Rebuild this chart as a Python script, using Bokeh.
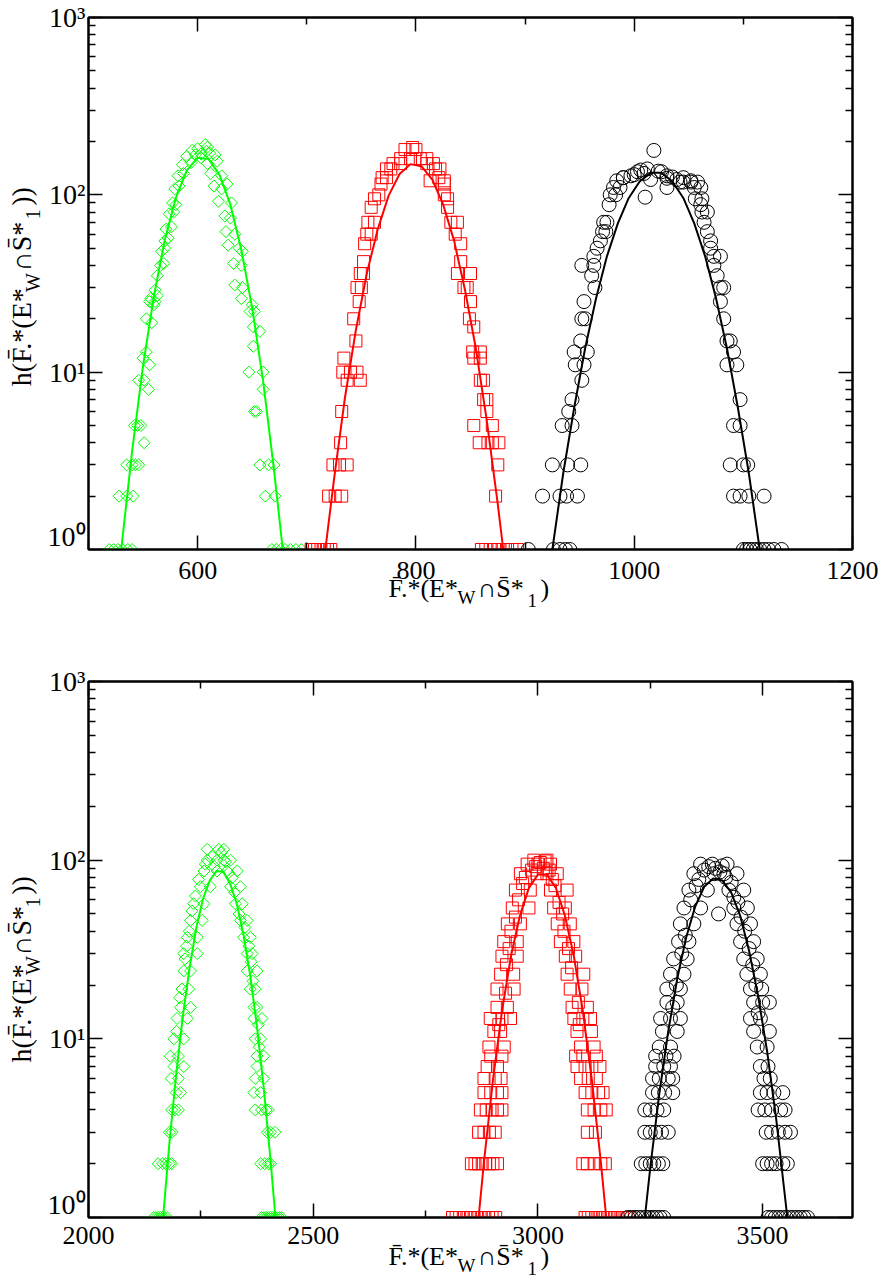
import math
from bokeh.plotting import figure
from bokeh.layouts import column, row
from bokeh.models import (FixedTicker, LinearAxis, LogAxis, Range1d, CustomJSTickFormatter)
from bokeh.core.properties import value
from bokeh.embed import file_html
from bokeh.resources import INLINE

FONT = "Liberation Serif"

# ---------------- top panel data ----------------
top_x_range = (500, 1200)
top_x_ticks = [600, 800, 1000, 1200]
top_x_minor = [500, 700, 900, 1100]

tg_x = [519, 523, 527, 531, 536, 540, 528, 535, 541, 535, 540, 543, 546, 551, 542, 545, 548,
        546, 551, 555, 550, 556, 553, 553, 558, 556, 561, 557, 560, 563, 561, 563, 566, 569, 567, 570,
        570, 573, 571, 576, 574, 578, 577, 580, 579, 583, 582, 587, 586, 594, 590, 598, 603, 595, 600,
        608, 607, 609,
        603, 611, 616, 609, 618, 612, 622, 615, 622, 627, 619, 631, 625, 630, 626, 634, 628, 638, 641,
        633, 640, 634, 641, 640, 650, 648, 652, 651, 657, 651, 647, 660, 660, 652, 654, 657, 665, 670,
        662, 671, 668, 672, 676, 680, 685, 690, 695]
tg_y = [1, 1, 1, 1, 1, 1, 2, 2, 2, 3, 3, 3, 3, 4, 5, 5, 5,
        9, 9, 8, 12, 11, 13, 20, 19, 25, 25, 26, 24, 27, 29, 35, 40, 41, 48, 50,
        55, 57, 64, 66, 78, 80, 90, 88, 108, 112, 128, 132, 148, 152, 165, 168, 162, 178, 182,
        176, 192, 186,
        170, 172, 168, 150, 155, 132, 128, 112, 108, 115, 92, 90, 76, 74, 62, 60, 52, 50, 48,
        41, 40, 31, 30, 26, 24, 22, 22, 18, 17, 14, 10, 10, 8, 6, 6, 3, 3, 3,
        2, 2, 1, 1, 1, 1, 1, 1, 1]
tg_fit_x = [530, 540, 550, 560, 570, 580, 590, 600, 610, 620, 630, 640, 650, 660, 670, 678]
tg_fit_y = [1.0, 3.6, 10.9, 27, 56, 96, 137, 162, 159, 130, 88, 49, 23, 8.9, 2.8, 1.0]

tr_x = [704, 707, 710, 713, 716, 719, 722, 720, 726, 732, 724, 730, 737, 731, 732, 737, 749,
        733, 740, 746, 734, 745, 743, 748, 746, 750, 749, 752, 752, 753, 755, 759, 756, 762, 759,
        762, 766, 768, 769, 773, 773, 777, 779, 786, 786, 795, 804, 810, 790, 800, 797,
        810, 816, 813, 826, 818, 822, 821, 826, 826, 829, 829, 832, 838, 836, 841, 841, 838, 850,
        844, 847, 850, 849, 853, 852, 859, 853, 859, 859, 862, 862, 865, 865, 853, 870, 858, 866,
        870, 876, 875, 873, 860, 864, 868, 872, 876, 880, 884, 888, 893]
tr_y = [1, 1, 1, 1, 1, 1, 1, 2, 2, 2, 3, 3, 3, 4, 6, 9, 9,
        10, 10, 10, 12, 15, 20, 25, 30, 30, 36, 36, 42, 53, 60, 60, 70, 70, 85,
        95, 100, 115, 125, 125, 140, 140, 150, 150, 160, 160, 160, 160, 180, 180, 185,
        150, 150, 120, 120, 140, 140, 125, 115, 100, 95, 85, 70, 70, 60, 53, 42, 36, 36,
        30, 30, 25, 20, 18, 13, 13, 12, 12, 9, 9, 7, 7, 6, 5, 5, 4, 4,
        4, 4, 3, 2, 1, 1, 1, 1, 1, 1, 1, 1, 1]
tr_fit_x = [717, 725, 735, 745, 755, 765, 775, 785, 795, 805, 815, 825, 835, 845, 855, 865, 875, 880]
tr_fit_y = [1.0, 2.5, 7.2, 17.3, 36, 64, 99, 131, 149, 145, 122, 88, 55, 29, 13.5, 5.3, 1.8, 1.0]

tk_x = [903, 926, 932, 937, 941, 1100, 1103, 1106, 1109, 1112, 1115, 1119, 1123, 1128, 1135,
        916, 932, 938, 948, 1091, 1097, 1105, 1119, 925, 939, 951, 1088, 1100, 1104,
        934, 943, 1091, 1097, 940, 943, 1097, 952, 946, 954, 1085, 1094, 945, 957, 1091,
        951, 1085, 1088, 952, 955, 1082, 954, 1079, 964, 1079, 1082, 961, 1076,
        952, 963, 1073, 963, 1073, 1079, 966, 1070, 969, 1070, 971, 974, 1067, 972, 975, 1064,
        1062, 1067, 977, 1061, 1056, 1062, 978, 983, 981, 987, 1055, 1061, 1052, 1058,
        984, 990, 1045, 1052, 990, 1039, 1045, 997, 1009, 1030, 1042, 1003, 1012, 1022, 1030,
        1018, 1010, 1030, 1000, 1006, 1015, 1025, 1035]
tk_y = [1, 1, 1, 1, 1, 1, 1, 1, 1, 1, 1, 1, 1, 1, 1,
        2, 2, 2, 2, 2, 2, 2, 2, 3, 3, 3, 3, 3, 3,
        5, 5, 5, 5, 6, 7, 7, 9, 11, 11, 11, 11, 13, 13, 13,
        15, 15, 15, 20, 20, 20, 25, 25, 30, 30, 30, 35, 35,
        40, 40, 40, 45, 45, 45, 50, 50, 55, 55, 62, 62, 62, 70, 70, 70,
        80, 80, 88, 88, 95, 95, 100, 100, 110, 110, 110, 110, 118, 118,
        120, 125, 125, 120, 125, 122, 118, 128, 132, 124, 118, 135, 140, 136, 128,
        178, 97, 110, 130, 138, 122, 135, 126]
tk_fit_x = [925, 935, 945, 955, 965, 975, 985, 995, 1005, 1015, 1025, 1035, 1045, 1055, 1065,
            1075, 1085, 1095, 1105, 1115]
tk_fit_y = [1.0, 2.7, 6.3, 13.6, 26, 45, 69, 96, 119, 133, 133, 119, 96, 69, 45, 26, 13.6, 6.3, 2.7, 1.0]

# ---------------- bottom panel data ----------------
bot_x_range = (2000, 3700)
bot_x_ticks = [2000, 2500, 3000, 3500]
bot_x_minor = [2250, 2750, 3250]

bg_x = [2145, 2150, 2155, 2160, 2165, 2170, 2175, 2385, 2390, 2395, 2400, 2405, 2410, 2415, 2420, 2425, 2430,
        2155, 2165, 2172, 2180, 2185, 2383, 2392, 2400, 2405,
        2180, 2186, 2398, 2405, 2415,
        2185, 2192, 2200, 2371, 2385, 2395, 2400,
        2195, 2205, 2368, 2383,
        2184, 2200, 2371, 2390,
        2190, 2212, 2375,
        2182, 2200, 2375, 2390,
        2190, 2212, 2371, 2383,
        2197, 2220, 2368, 2386,
        2205, 2227, 2368, 2375,
        2208, 2223, 2360, 2371,
        2212, 2227, 2353, 2375,
        2212, 2242, 2353, 2364,
        2220, 2242, 2345, 2360,
        2227, 2253, 2338, 2353,
        2234, 2257, 2327, 2342,
        2249, 2271, 2316, 2338,
        2257, 2286, 2308, 2331,
        2264, 2286, 2301, 2316,
        2264, 2290, 2301,
        2230, 2238, 2245, 2260, 2275, 2280, 2295, 2305, 2312, 2320, 2325, 2335, 2348, 2357,
        2362, 2218, 2224, 2215, 2203, 2196, 2366, 2378, 2380]
bg_y = [1, 1, 1, 1, 1, 1, 1, 1, 1, 1, 1, 1, 1, 1, 1, 1, 1,
        2, 2, 2, 2, 2, 2, 2, 2, 2,
        3, 3, 3, 3, 3,
        4, 4, 4, 4, 4, 4, 4,
        5, 5, 5, 5,
        6, 6, 6, 6,
        7, 7, 7,
        8, 8, 8, 8,
        10, 10, 10, 10,
        13, 13, 13, 13,
        15, 15, 15, 15,
        19, 19, 19, 19,
        24, 24, 24, 24,
        30, 30, 30, 30,
        37, 37, 37, 37,
        46, 46, 46, 46,
        57, 57, 57, 57,
        71, 71, 71, 71,
        87, 87, 87, 87,
        100, 100, 100, 100,
        115, 115, 115,
        52, 63, 78, 95, 105, 92, 110, 98, 85, 80, 66, 50, 42, 33,
        27, 33, 40, 28, 17, 11, 21, 12, 9]
bg_fit_x = [2166, 2180, 2195, 2210, 2225, 2240, 2255, 2270, 2285, 2300, 2315, 2330, 2345, 2360,
            2375, 2390, 2405, 2416]
bg_fit_y = [1.0, 2.6, 6.3, 13.4, 25, 42, 61, 77, 87, 86, 74, 57, 38, 22.5, 11.6, 5.3, 2.1, 1.0]

br_x = [2810, 2818, 2826, 2834, 2842, 2850, 2858, 2866, 2874, 2882, 2890, 2898, 2906,
        3105, 3112, 3120, 3128, 3136, 3144, 3150, 3158, 3165, 3172, 3180, 3188, 3196, 3203,
        2852, 2860, 2868, 2876, 2884, 2892, 2900, 2910, 3100, 3110, 3125, 3140, 3150,
        2868, 2880, 2892, 2905, 3110, 3128,
        2872, 2885, 2898, 2910, 2920, 3110, 3125, 3140, 3152,
        2880, 2895, 2910, 2920, 3105, 3120, 3135, 3145,
        2880, 2905, 2918, 3095, 3112, 3130,
        2887, 2910, 3087, 3105, 3120, 3138,
        2895, 2920, 3084, 3100, 3130,
        2891, 2925, 3095, 3125,
        2902, 2917, 3087, 3119,
        2894, 2920, 2939, 3080, 3100, 3117,
        2909, 2932, 3076, 3110,
        2909, 2947, 3072, 3098,
        2917, 2946, 3065, 3102,
        2920, 2954, 3061, 3084,
        2924, 2954, 3050, 3080,
        2932, 2961, 3043, 3072,
        2943, 2980, 3035, 3061,
        2950, 2983, 3028, 3065,
        2961, 2998, 3020, 3043,
        2976, 3000, 3028,
        2991, 3020,
        2930, 2936, 2940, 2950, 2957, 2966, 2972, 2986, 2995, 3005, 3012, 3016, 3025, 3032,
        3038, 3047, 3055, 3058, 3068, 3075, 3090, 2928, 2913, 3092]
br_y = [1, 1, 1, 1, 1, 1, 1, 1, 1, 1, 1, 1, 1,
        1, 1, 1, 1, 1, 1, 1, 1, 1, 1, 1, 1, 1, 1,
        2, 2, 2, 2, 2, 2, 2, 2, 2, 2, 2, 2, 2,
        3, 3, 3, 3, 3, 3,
        4, 4, 4, 4, 4, 4, 4, 4, 4,
        5, 5, 5, 5, 5, 5, 5, 5,
        6, 6, 6, 6, 6, 6,
        7, 7, 7, 7, 7, 7,
        8, 8, 8, 8, 8,
        9, 9, 9, 9,
        11, 11, 11, 11,
        13, 13, 13, 13, 13, 13,
        15, 15, 15, 15,
        19, 19, 19, 19,
        23, 23, 23, 23,
        29, 29, 29, 29,
        35, 35, 35, 35,
        44, 44, 44, 44,
        54, 54, 54, 54,
        68, 68, 68, 68,
        84, 84, 84, 84,
        95, 95, 95,
        100, 100,
        26, 32, 40, 48, 60, 74, 80, 88, 92, 97, 90, 99, 88, 78,
        72, 58, 50, 40, 32, 25, 16, 18, 12, 12]
br_fit_x = [2868, 2880, 2900, 2920, 2940, 2960, 2980, 3000, 3020, 3040, 3060, 3080, 3100, 3120, 3140, 3152]
br_fit_y = [1.0, 2.05, 5.9, 14.3, 29, 49, 70, 83, 83, 70, 49, 29, 14.3, 5.9, 2.05, 1.0]

bk_x = [3200, 3208, 3216, 3224, 3232, 3240, 3248, 3256, 3264, 3272, 3280,
        3512, 3520, 3528, 3536, 3544, 3552, 3560, 3568, 3576, 3584, 3592, 3600,
        3230, 3240, 3250, 3258, 3268, 3278, 3500, 3510, 3520, 3530, 3545, 3555,
        3238, 3250, 3262, 3275, 3290, 3508, 3520, 3535, 3550, 3562,
        3238, 3250, 3265, 3280, 3490, 3505, 3520, 3540, 3550,
        3255, 3268, 3282, 3300, 3495, 3510, 3525, 3545,
        3255, 3270, 3290, 3300, 3503, 3517,
        3262, 3280, 3295, 3495, 3512,
        3262, 3285, 3303,
        3270, 3295, 3488, 3510,
        3277, 3310, 3480, 3515,
        3273, 3295, 3317, 3473, 3495,
        3287, 3310, 3480, 3500, 3515,
        3287, 3317, 3473, 3498,
        3295, 3325, 3465, 3495,
        3302, 3332, 3458, 3488,
        3313, 3336, 3451, 3480,
        3317, 3347, 3443, 3473,
        3325, 3362, 3436, 3466,
        3336, 3377, 3425, 3458,
        3347, 3392, 3414, 3443,
        3362, 3388, 3421,
        3402,
        3340, 3352, 3358, 3370, 3380, 3395, 3405, 3410, 3418, 3430, 3436, 3445, 3452, 3460,
        3470, 3478, 3485, 3308, 3320, 3328, 3300, 3490]
bk_y = [1, 1, 1, 1, 1, 1, 1, 1, 1, 1, 1,
        1, 1, 1, 1, 1, 1, 1, 1, 1, 1, 1, 1,
        2, 2, 2, 2, 2, 2, 2, 2, 2, 2, 2, 2,
        3, 3, 3, 3, 3, 3, 3, 3, 3, 3,
        4, 4, 4, 4, 4, 4, 4, 4, 4,
        5, 5, 5, 5, 5, 5, 5, 5,
        6, 6, 6, 6, 6, 6,
        7, 7, 7, 7, 7,
        8, 8, 8,
        9, 9, 9, 9,
        11, 11, 11, 11,
        13, 13, 13, 13, 13,
        16, 16, 16, 16, 16,
        19, 19, 19, 19,
        23, 23, 23, 23,
        28, 28, 28, 28,
        35, 35, 35, 35,
        44, 44, 44, 44,
        54, 54, 54, 54,
        68, 68, 68, 68,
        84, 84, 84, 84,
        95, 95, 95,
        50,
        60, 72, 78, 88, 92, 90, 86, 93, 80, 75, 62, 58, 48, 40,
        32, 26, 20, 20, 30, 38, 15, 14]
bk_fit_x = [3238, 3250, 3270, 3290, 3310, 3330, 3350, 3370, 3390, 3410, 3430, 3450, 3470, 3490,
            3510, 3530, 3555]
bk_fit_y = [1.0, 1.9, 4.9, 11, 21.7, 37, 55, 71, 79, 77, 66, 49, 31, 17.4, 8.5, 3.6, 1.0]

y_ticks = [1, 10, 100, 1000]
y_minor = [2, 3, 4, 5, 6, 7, 8, 9, 20, 30, 40, 50, 60, 70, 80, 90,
           200, 300, 400, 500, 600, 700, 800, 900]
y_tick_labels = ["10\u2070", "10\u00b9", "10\u00b2", "10\u00b3"]

GREEN = "#00ff00"
RED = "#ff0000"
BLACK = "#000000"

# layout geometry (pixels)
TOTAL_W = 880
LEFT_W = 44
FRAME_L = 88
FRAME_W = 764


def style_axis(ax, ticker, show_labels):
    ax.ticker = ticker
    ax.major_tick_in = 14
    ax.major_tick_out = 0
    ax.minor_tick_in = 7
    ax.minor_tick_out = 0
    ax.axis_line_color = "black"
    ax.axis_line_width = 2
    ax.major_tick_line_color = "black"
    ax.major_tick_line_width = 1.5
    ax.minor_tick_line_color = "black"
    ax.minor_tick_line_width = 1.5
    ax.major_label_text_font = FONT
    ax.major_label_text_color = "black"
    if show_labels:
        ax.major_label_text_font_size = "28px"
        ax.major_label_standoff = 3
    else:
        ax.formatter = CustomJSTickFormatter(code="return ''")
        ax.major_label_text_font_size = "0px"
        ax.major_label_standoff = 0


def blank_fig(w, h):
    f = figure(width=w, height=h, x_range=Range1d(0, w), y_range=Range1d(h, 0),
               x_axis_location=None, y_axis_location=None, output_backend="svg",
               toolbar_location=None, min_border=0)
    f.min_border_left = 0
    f.min_border_right = 0
    f.min_border_top = 0
    f.min_border_bottom = 0
    f.grid.visible = False
    f.outline_line_color = None
    f.background_fill_color = "white"
    f.border_fill_color = "white"
    return f


def txt(f, x, y, s, size_px, align="left", rotated=False):
    # compensate the baseline shift observed for text glyphs (about 0.3 em)
    shift = 0.3 * size_px
    if rotated:
        x, ang = x - shift, math.pi / 2
    else:
        y, ang = y - shift, 0.0
    f.text(x=[x], y=[y], text=[s], angle=ang, text_font=value(FONT),
           text_font_size="%dpx" % size_px, text_color="black", text_align=align,
           text_baseline="alphabetic")


def main_panel(xr, xt, xm, fh, top_b, series):
    p = figure(frame_width=FRAME_W, frame_height=fh, x_range=Range1d(*xr), y_range=Range1d(1, 1000),
               y_axis_type="log", output_backend="svg", toolbar_location=None,
               min_border_left=FRAME_L - LEFT_W, min_border_right=TOTAL_W - FRAME_L - FRAME_W,
               min_border_top=top_b, min_border_bottom=2)
    p.grid.visible = False
    p.outline_line_color = "black"
    p.outline_line_width = 2
    p.background_fill_color = "white"
    p.border_fill_color = "white"

    style_axis(p.xaxis[0], FixedTicker(ticks=xt, minor_ticks=xm), False)
    style_axis(p.yaxis[0], FixedTicker(ticks=y_ticks, minor_ticks=y_minor), True)
    p.yaxis[0].major_label_overrides = {float(v): s for v, s in zip(y_ticks, y_tick_labels)}
    top_ax = LinearAxis()
    style_axis(top_ax, FixedTicker(ticks=xt, minor_ticks=xm), False)
    p.add_layout(top_ax, "above")
    right_ax = LogAxis()
    style_axis(right_ax, FixedTicker(ticks=y_ticks, minor_ticks=y_minor), False)
    p.add_layout(right_ax, "right")

    for (sx, sy, fx, fy, color, marker) in series:
        if marker == "diamond":
            p.scatter(sx, sy, marker="square", angle=math.pi / 4, size=8.5,
                      fill_color=None, line_color=color, line_width=1)
        elif marker == "square":
            p.scatter(sx, sy, marker="square", size=12,
                      fill_color=None, line_color=color, line_width=1)
        else:
            p.scatter(sx, sy, marker="circle", size=14,
                      fill_color=None, line_color=color, line_width=1)
        p.line(fx, fy, line_color=color, line_width=2)
    return p


def ylabel_fig(h, start):
    f = blank_fig(LEFT_W, h)
    txt(f, 29, start, "h(F\u0304.*(E*", 28, rotated=True)
    txt(f, 38, start - 97.6, "W", 20, rotated=True)
    txt(f, 29, start - 119, "\u2229S\u0304*", 28, rotated=True)
    txt(f, 38, start - 173, "1", 20, rotated=True)
    txt(f, 29, start - 187, "))", 28, rotated=True)
    return f


def xlabel_fig(h, xr, xt, tick_base, title_base):
    f = blank_fig(TOTAL_W, h)
    for v in xt:
        px = FRAME_L + (v - xr[0]) * FRAME_W / (xr[1] - xr[0])
        txt(f, px, tick_base, str(v), 26, align="center")
    txt(f, 388, title_base, "F\u0304.*(E*", 26)
    txt(f, 457, title_base + 7, "W", 19)
    txt(f, 477, title_base, "\u2229S\u0304*", 26)
    txt(f, 527, title_base + 10, "1", 19)
    txt(f, 540, title_base, ")", 26)
    return f


# top block
H1 = 17 + 532 + 2
m1 = main_panel(top_x_range, top_x_ticks, top_x_minor, 532, 17,
                [(tg_x, tg_y, tg_fit_x, tg_fit_y, GREEN, "diamond"),
                 (tr_x, tr_y, tr_fit_x, tr_fit_y, RED, "square"),
                 (tk_x, tk_y, tk_fit_x, tk_fit_y, BLACK, "circle")])
l1 = ylabel_fig(H1, 382)
b1 = xlabel_fig(70, top_x_range, top_x_ticks, 27, 45)

# bottom block
H2 = 60 + 536 + 2
m2 = main_panel(bot_x_range, bot_x_ticks, bot_x_minor, 536, 60,
                [(bg_x, bg_y, bg_fit_x, bg_fit_y, GREEN, "diamond"),
                 (br_x, br_y, br_fit_x, br_fit_y, RED, "square"),
                 (bk_x, bk_y, bk_fit_x, bk_fit_y, BLACK, "circle")])
l2 = ylabel_fig(H2, 425)
b2 = xlabel_fig(62, bot_x_range, bot_x_ticks, 24, 45)

layout = column(row(l1, m1, spacing=0), b1, row(l2, m2, spacing=0), b2, spacing=0)
open("out.html", "w").write(file_html(layout, INLINE))
